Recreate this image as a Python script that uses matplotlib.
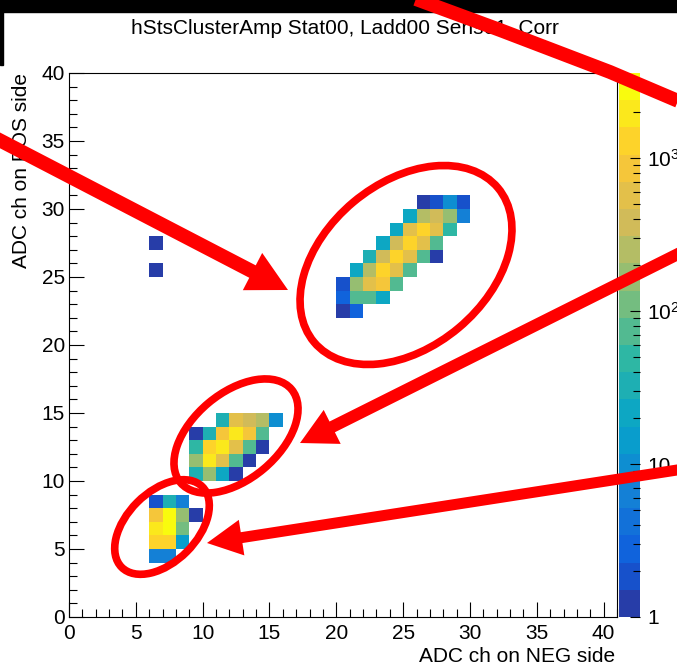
import numpy as np
import matplotlib
matplotlib.use("Agg")
import matplotlib.pyplot as plt
from matplotlib.colors import LinearSegmentedColormap, ListedColormap, BoundaryNorm
from matplotlib.patches import Ellipse, FancyArrow, Rectangle
from matplotlib.lines import Line2D
from matplotlib.transforms import Affine2D
from matplotlib.ticker import MultipleLocator, LogLocator, FuncFormatter, NullFormatter

plt.rcParams['font.family'] = ['Liberation Sans', 'DejaVu Sans']
plt.rcParams['mathtext.default'] = 'regular'

# filled bins: ADC channel on NEG side, on POS side, entries
neg_ch = [26, 27, 28, 29,
          25, 26, 27, 28, 29,
          24, 25, 26, 27, 28,
          23, 24, 25, 26, 27,
          22, 23, 24, 25, 26, 27,
          21, 22, 23, 24, 25,
          20, 21, 22, 23, 24,
          20, 21, 22, 23,
          20, 21,
          6, 6,
          11, 12, 13, 14, 15,
          9, 10, 11, 12, 13, 14,
          9, 10, 11, 12, 13, 14,
          9, 10, 11, 12, 13,
          9, 10, 11, 12,
          6, 7, 8,
          6, 7, 8, 9,
          6, 7, 8,
          6, 7, 8,
          6, 7]
pos_ch = [30, 30, 30, 30,
          29, 29, 29, 29, 29,
          28, 28, 28, 28, 28,
          27, 27, 27, 27, 27,
          26, 26, 26, 26, 26, 26,
          25, 25, 25, 25, 25,
          24, 24, 24, 24, 24,
          23, 23, 23, 23,
          22, 22,
          27, 25,
          14, 14, 14, 14, 14,
          13, 13, 13, 13, 13, 13,
          12, 12, 12, 12, 12, 12,
          11, 11, 11, 11, 11,
          10, 10, 10, 10,
          8, 8, 8,
          7, 7, 7, 7,
          6, 6, 6,
          5, 5, 5,
          4, 4]
counts = [1, 2, 8, 2,
          20, 250, 380, 160, 6,
          20, 550, 1200, 550, 45,
          20, 380, 1200, 550, 70,
          30, 380, 1200, 550, 70, 1,
          20, 250, 1200, 550, 70,
          2, 160, 550, 800, 70,
          3, 70, 70, 20,
          1, 3,
          1, 1,
          30, 550, 380, 250, 9,
          1, 35, 800, 1800, 800, 70,
          40, 1200, 1800, 550, 70, 1,
          160, 1800, 550, 70, 1,
          30, 160, 18, 1,
          2, 30, 6,
          800, 3600, 160, 1,
          2000, 3000, 110,
          1300, 1300, 13,
          6, 6]

title = "hStsClusterAmp Stat00, Ladd00 Sens01_Corr"

# ROOT kBird palette, 20 contour levels on a log scale
stops = [0.0, 0.125, 0.25, 0.375, 0.5, 0.625, 0.75, 0.875, 1.0]
red = [0.2082, 0.0592, 0.0780, 0.0232, 0.1802, 0.5301, 0.8186, 0.9956, 0.9764]
green = [0.1664, 0.3599, 0.5041, 0.6419, 0.7178, 0.7492, 0.7328, 0.7862, 0.9832]
blue = [0.5293, 0.8684, 0.8385, 0.7914, 0.6425, 0.4662, 0.3499, 0.1968, 0.0539]
bird = LinearSegmentedColormap.from_list(
    "bird", [(s, (r, g, b)) for s, r, g, b in zip(stops, red, green, blue)], N=255)
ndiv = 20
cols = [bird(int((i + 0.99) * 255 / ndiv) / 254) for i in range(ndiv)]
cmap = ListedColormap(cols)
zmax = max(counts)
levels = np.logspace(0, np.log10(zmax), ndiv + 1)
norm = BoundaryNorm(levels, ndiv)

H = np.zeros((41, 41))
for x, y, c in zip(neg_ch, pos_ch, counts):
    H[y, x] = c
H = np.ma.masked_equal(H, 0)

W, Hpx = 677, 671
fig = plt.figure(figsize=(W / 100, Hpx / 100), dpi=100)
ax = fig.add_axes([69 / W, 1 - 617 / Hpx, 548 / W, 544 / Hpx])
ax.pcolormesh(np.arange(42), np.arange(42), H, cmap=cmap, norm=norm)
ax.set_xlim(0, 41)
ax.set_ylim(0, 40)
ax.xaxis.set_major_locator(MultipleLocator(5))
ax.xaxis.set_minor_locator(MultipleLocator(1))
ax.yaxis.set_major_locator(MultipleLocator(5))
ax.yaxis.set_minor_locator(MultipleLocator(1))
ax.tick_params(which='both', direction='in', top=False, right=False, width=0.8, labelsize=15)
ax.tick_params(which='major', length=11)
ax.tick_params(which='minor', length=5.5)
ax.tick_params(axis='x', pad=5)
ax.tick_params(axis='y', pad=3)
for sp in ax.spines.values():
    sp.set_linewidth(0.8)

ax.set_xlabel("ADC ch on NEG side", fontsize=15, loc='right')
ax.xaxis.set_label_coords(0.996, -0.0735)
ax.xaxis.label.set_va('center')
ax.set_ylabel("ADC ch on POS side", fontsize=15, loc='top')
ax.yaxis.set_label_coords(-0.0858, 1.0)
ax.yaxis.label.set_va('center')

fig.text(345 / W, 1 - 28 / Hpx, title, ha='center', va='center', fontsize=15)

# colour scale
cax = fig.add_axes([619 / W, 1 - 617 / Hpx, 21 / W, 544 / Hpx])
mids = np.sqrt(levels[:-1] * levels[1:])
cax.pcolormesh([0, 1], levels, mids[:, None], cmap=cmap, norm=norm)
cax.set_yscale('log')
cax.set_ylim(1, zmax)
cax.set_xlim(0, 1)
cax.set_xticks([])
for sp in cax.spines.values():
    sp.set_visible(False)
cax.yaxis.tick_right()
cax.yaxis.set_major_locator(LogLocator(base=10, subs=(1.0,)))
cax.yaxis.set_minor_locator(LogLocator(base=10, subs=np.arange(2, 10)))
cax.yaxis.set_minor_formatter(NullFormatter())
lab = {1: "1", 10: "10", 100: "$10^{2}$", 1000: "$10^{3}$"}
cax.yaxis.set_major_formatter(FuncFormatter(lambda v, p: lab.get(int(round(v)), "")))
cax.tick_params(which='both', direction='in', width=0.8, labelsize=15, pad=5)
cax.tick_params(which='major', length=7)
cax.tick_params(which='minor', length=5)

# overlay: screenshot border and red annotations (pixel coordinates)
px = Affine2D().scale(1 / W, -1 / Hpx).translate(0, 1) + fig.transFigure
fig.add_artist(Rectangle((0, 0), W, 12, color='black', transform=px, zorder=20))
fig.add_artist(Rectangle((0, 0), 3, 65, color='black', transform=px, zorder=20))

red_c = '#ff0000'
for (cx, cy), w, h, ang in [((406, 265), 240, 164, -40),
                             ((236, 436), 145, 86, -40),
                             ((162, 527), 114, 70, -45)]:
    fig.add_artist(Ellipse((cx, cy), w, h, angle=ang, fill=False, ec=red_c,
                           lw=5.5, transform=px, zorder=21))

for (x0, y0), (x1, y1), sw, hw, hl in [((-20, 130), (288, 290), 14, 42, 40),
                                        ((690, 248), (300, 443), 12, 38, 36),
                                        ((690, 468), (207, 543), 11, 36, 35)]:
    fig.add_artist(FancyArrow(x0, y0, x1 - x0, y1 - y0, width=sw, head_width=hw,
                              head_length=hl, length_includes_head=True,
                              color=red_c, lw=0, transform=px, zorder=21))

band_x = [405, 500, 610, 690]
band_y = [-5, 30, 72, 106]
fig.add_artist(Line2D(band_x, band_y, color=red_c, lw=10, solid_capstyle='butt',
                      transform=px, zorder=21))

fig.savefig("out.png", dpi=100)
